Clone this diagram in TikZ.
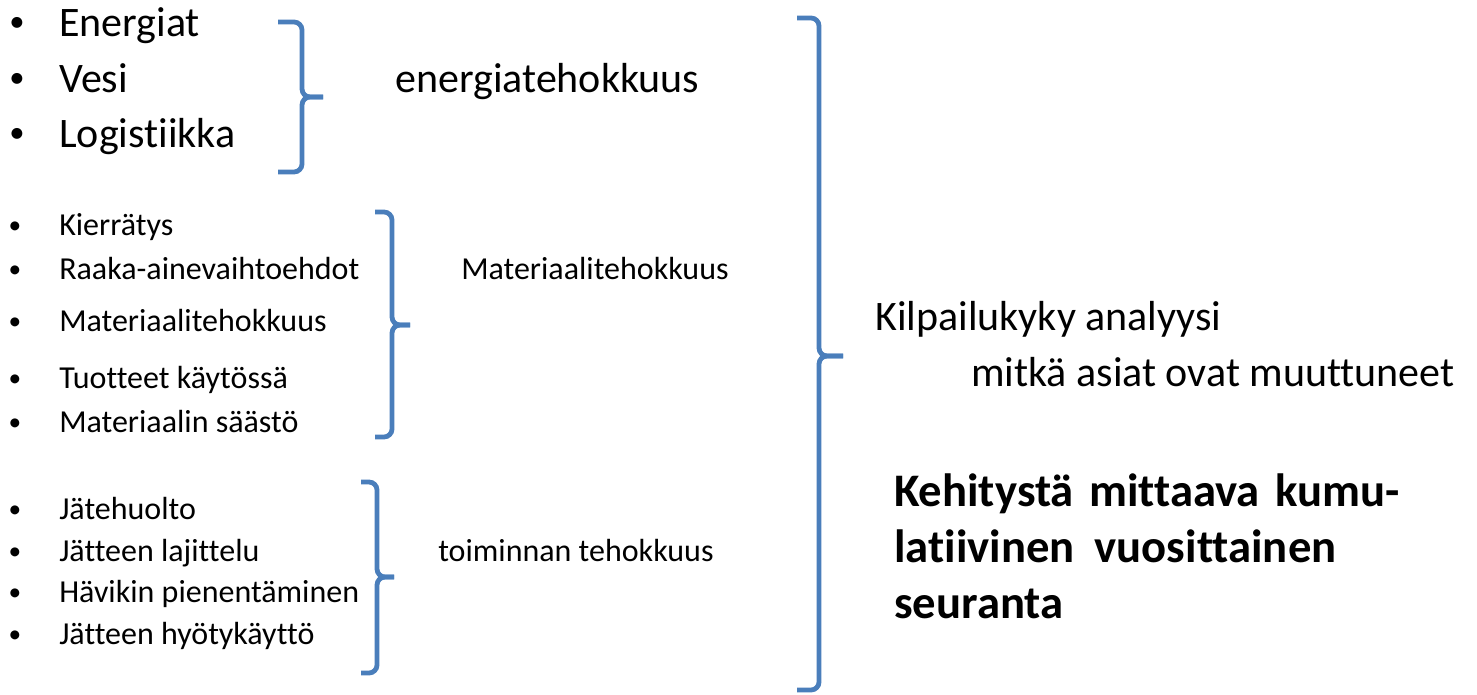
\documentclass[tikz,border=0pt]{standalone}
\usepackage{fontspec}
\setmainfont{Carlito}[Ligatures={NoCommon,NoContextual}]
\definecolor{braceblue}{RGB}{74,126,187}
\newcommand{\gapa}{\hspace{11.5pt}}
\newcommand{\gapb}{\hspace{15pt}}
\tikzset{
  big/.style={font=\fontsize{31.5pt}{38pt}\selectfont, inner sep=0pt, anchor=base west},
  small/.style={font=\fontsize{24pt}{29pt}\selectfont, inner sep=0pt, anchor=base west},
  bold/.style={font=\fontsize{35pt}{42pt}\selectfont\bfseries, inner sep=0pt, anchor=base west},
  bigbul/.style={font=\fontsize{23pt}{28pt}\selectfont, inner sep=0pt, anchor=base},
  smallbul/.style={font=\fontsize{19pt}{23pt}\selectfont, inner sep=0pt, anchor=base},
  bracepath/.style={draw=braceblue, line width=3.6pt, rounded corners=6pt, line cap=butt}
}
\begin{document}
\begin{tikzpicture}[x=0.75pt,y=-0.75pt]
\useasboundingbox (0,0) rectangle (1477,695);
% first group
\node[bigbul] (b1) at (17,32) {•};
\node[big] (energiat) at (59,37) {Energiat};
\node[bigbul] (b2) at (17,88) {•};
\node[big] (vesi) at (59,93) {Vesi};
\node[bigbul] (b3) at (17,143) {•};
\node[big] (logistiikka) at (59,148) {Logistiikka};
\node[big] (energiateh) at (395,93) {energiatehokkuus};
% second group
\node[smallbul] (s1) at (15,234) {•};
\node[small] (kierratys) at (59,236) {Kierrätys};
\node[smallbul] (s2) at (15,277) {•};
\node[small] (raaka) at (59,279) {Raaka-ainevaihtoehdot};
\node[smallbul] (s3) at (15,329) {•};
\node[small] (mattehlist) at (59,331) {Materiaalitehokkuus};
\node[smallbul] (s4) at (15,386) {•};
\node[small] (tuotteet) at (59,388) {Tuotteet käytössä};
\node[smallbul] (s5) at (15,430) {•};
\node[small] (saasto) at (59,432) {Materiaalin säästö};
\node[small] (matteh) at (461,279) {Materiaalitehokkuus};
% third group
\node[smallbul] (t1) at (15,517) {•};
\node[small] (jatehuolto) at (59,519) {Jätehuolto};
\node[smallbul] (t2) at (15,559) {•};
\node[small] (lajittelu) at (59,561) {Jätteen lajittelu};
\node[smallbul] (t3) at (15,600) {•};
\node[small] (havikki) at (59,602) {Hävikin pienentäminen};
\node[smallbul] (t4) at (15,642) {•};
\node[small] (hyoty) at (59,644) {Jätteen hyötykäyttö};
\node[small] (toiminnan) at (438,561) {toiminnan tehokkuus};
% right side
\node[big] (kilpailu) at (875,330) {Kilpailukyky analyysi};
\node[big] (mitka) at (971,386) {mitkä asiat ovat muuttuneet};
\node[bold] (kehitys1) at (894,506) {Kehitystä\gapa mittaava\gapa kumu-};
\node[bold] (kehitys2) at (894,562) {latiivinen\gapb vuosittainen};
\node[bold] (kehitys3) at (894,618) {seuranta};
% braces
\draw[bracepath] (278,22) -- (302,22) -- (302,97) -- (323,97);
\draw[bracepath] (323,97) -- (302,97) -- (302,172) -- (278,172);
\draw[bracepath] (375,212) -- (392,212) -- (392,325) -- (410,325);
\draw[bracepath] (410,325) -- (392,325) -- (392,437) -- (375,437);
\draw[bracepath] (361,482) -- (377,482) -- (377,577) -- (394,577);
\draw[bracepath] (394,577) -- (377,577) -- (377,673) -- (361,673);
\draw[bracepath] (797,18) -- (819,18) -- (819,356) -- (843,356);
\draw[bracepath] (843,356) -- (819,356) -- (819,690) -- (797,690);
\end{tikzpicture}
\end{document}
